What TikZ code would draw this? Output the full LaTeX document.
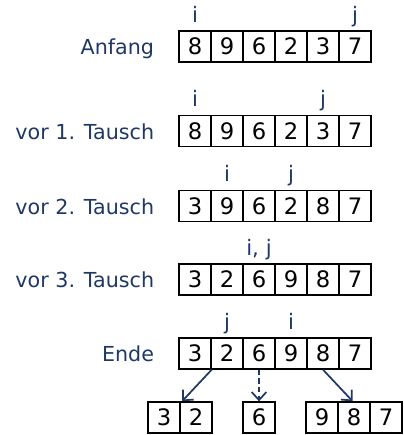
\documentclass[tikz,border=0pt]{standalone}
\usepackage{fontspec}
\setmainfont{DejaVu Sans}
\usetikzlibrary{positioning,arrows.meta,calc}
\definecolor{navy}{HTML}{1F3864}

\tikzset{
  cell/.style={draw=black, line width=1pt, minimum width=24pt, minimum height=23.25pt,
               inner sep=0pt, font=\fontsize{17}{20}\selectfont},
  rowlabel/.style={text=navy, inner sep=0pt, anchor=base east, font=\fontsize{15.5}{18}\selectfont},
  ptr/.style={text=navy, inner sep=0pt, anchor=base, font=\fontsize{16}{19}\selectfont},
  splitarrow/.style={draw=navy, line width=1.3pt, -{Straight Barb[length=6pt,width=11pt]}},
}

\begin{document}
\begin{tikzpicture}[x=0.75pt, y=-0.75pt]
  \useasboundingbox (0,0) rectangle (403,435);

  % the array after each step
  \foreach \r/\y/\vals in {1/46.5/{8,9,6,2,3,7}, 2/131/{8,9,6,2,3,7}, 3/206/{3,9,6,2,8,7},
                          4/279.5/{3,2,6,9,8,7}, 5/353.5/{3,2,6,9,8,7}}
    \foreach \v [count=\k] in \vals
      \node[cell] (c\r-\k) at (163+32*\k, \y) {\v};

  % row captions
  \node[rowlabel] (lab1) at ([xshift=-18pt]c1-1.base west) {Anfang};
  \node[rowlabel] (lab2) at ([xshift=-18pt]c2-1.base west) {vor 1. Tausch};
  \node[rowlabel] (lab3) at ([xshift=-18pt]c3-1.base west) {vor 2. Tausch};
  \node[rowlabel] (lab4) at ([xshift=-18pt]c4-1.base west) {vor 3. Tausch};
  \node[rowlabel] (lab5) at ([xshift=-18pt]c5-1.base west) {Ende};

  % i and j
  \node[ptr] (i1) at ([yshift=6pt]c1-1.north) {i};
  \node[ptr] (j1) at ([yshift=6pt]c1-6.north) {j};
  \node[ptr] (i2) at ([yshift=6pt]c2-1.north) {i};
  \node[ptr] (j2) at ([yshift=6pt]c2-5.north) {j};
  \node[ptr] (i3) at ([yshift=6pt]c3-2.north) {i};
  \node[ptr] (j3) at ([yshift=6pt]c3-4.north) {j};
  \node[ptr] (ij4) at ([yshift=6pt]c4-3.north) {i, j};
  \node[ptr] (j5) at ([yshift=6pt]c5-2.north) {j};
  \node[ptr] (i5) at ([yshift=6pt]c5-4.north) {i};

  % the parts after splitting
  \node[cell] (b1-1) at (164,417.5) {3};
  \node[cell] (b1-2) at (196,417.5) {2};
  \node[cell] (b2-1) at (259,417.5) {6};
  \node[cell] (b3-1) at (322,417.5) {9};
  \node[cell] (b3-2) at (354,417.5) {8};
  \node[cell] (b3-3) at (386,417.5) {7};

  \draw[splitarrow] (c5-1.south east) -- ([xshift=1pt]b1-1.north east);
  \draw[splitarrow, dash pattern=on 4pt off 2.5pt] (c5-3.south) -- (b2-1.north);
  \draw[splitarrow] (c5-5.south) -- ([xshift=-1pt]b3-2.north);
\end{tikzpicture}
\end{document}
